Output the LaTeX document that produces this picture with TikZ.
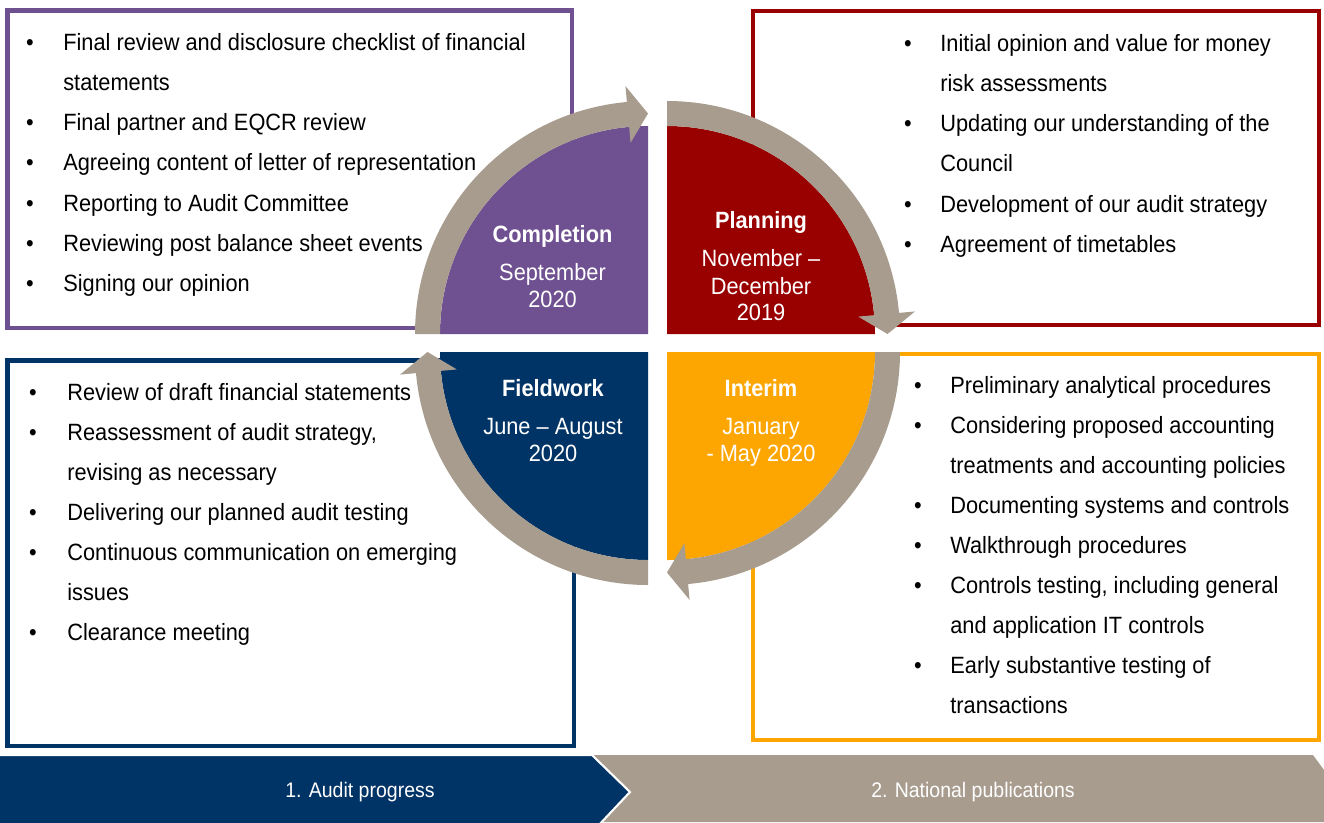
\documentclass[tikz,border=0pt]{standalone}
\usepackage{fontspec}
\setmainfont{Liberation Sans}[FakeStretch=0.925]
\usetikzlibrary{calc}

\definecolor{compPurple}{RGB}{111,80,145}
\definecolor{planRed}{RGB}{153,0,0}
\definecolor{fieldBlue}{RGB}{0,51,102}
\definecolor{interimOrange}{RGB}{253,165,0}
\definecolor{ringGrey}{RGB}{168,156,142}

\tikzset{
  panel/.style={line width=2.3pt},
  item/.style={anchor=base west, inner sep=0pt, text=black, font=\fontsize{13.4}{16}\selectfont},
  dot/.style={anchor=base, inner sep=0pt, text=black, font=\fontsize{13.4}{16}\selectfont},
  phase/.style={anchor=base, inner sep=0pt, text=white, font=\fontsize{13.4}{16}\selectfont\bfseries},
  period/.style={anchor=base, inner sep=0pt, text=white, font=\fontsize{13.4}{16}\selectfont},
  tab/.style={inner sep=0pt, text=white, font=\fontsize{12}{14}\selectfont},
}

\begin{document}
\begin{tikzpicture}[x=0.02cm, y=-0.02cm]
\useasboundingbox (0,0) rectangle (1324,822);

% The four panels
\draw[panel, draw=compPurple] (7.5,10.5) rectangle (572,328);
\draw[panel, draw=planRed] (753,11) rectangle (1319,325);
\draw[panel, draw=fieldBlue] (7.5,360.5) rectangle (574,746);
\draw[panel, draw=interimOrange] (753,354) rectangle (1319,740);

% Completion items
\foreach \k/\txt in {0/{Final review and disclosure checklist of financial}, 1/statements,
  2/{Final partner and EQCR review}, 3/{Agreeing content of letter of representation},
  4/{Reporting to Audit Committee}, 5/{Reviewing post balance sheet events}, 6/{Signing our opinion}}{
  \node[item] (comp\k) at (63,{50+40.25*\k}) {\txt};
}
\foreach \k in {0,2,3,4,5,6}{
  \node[dot] (compdot\k) at (30,{50+40.25*\k}) {\textbullet};
}

% Planning items
\foreach \k/\txt in {0/{Initial opinion and value for money}, 1/{risk assessments},
  2/{Updating our understanding of the}, 3/Council,
  4/{Development of our audit strategy}, 5/{Agreement of timetables}}{
  \node[item] (plan\k) at (940,{51+40.25*\k}) {\txt};
}
\foreach \k in {0,2,4,5}{
  \node[dot] (plandot\k) at (908,{51+40.25*\k}) {\textbullet};
}

% Fieldwork items
\foreach \k/\txt in {0/{Review of draft financial statements}, 1/{Reassessment of audit strategy,},
  2/{revising as necessary}, 3/{Delivering our planned audit testing},
  4/{Continuous communication on emerging}, 5/issues, 6/{Clearance meeting}}{
  \node[item] (field\k) at (67,{400+40*\k}) {\txt};
}
\foreach \k in {0,1,3,4,6}{
  \node[dot] (fielddot\k) at (33,{400+40*\k}) {\textbullet};
}

% Interim items
\foreach \k/\txt in {0/{Preliminary analytical procedures}, 1/{Considering proposed accounting},
  2/{treatments and accounting policies}, 3/{Documenting systems and controls},
  4/{Walkthrough procedures}, 5/{Controls testing, including general},
  6/{and application IT controls}, 7/{Early substantive testing of}, 8/transactions}{
  \node[item] (int\k) at (950,{393+40*\k}) {\txt};
}
\foreach \k in {0,1,3,4,5,7}{
  \node[dot] (intdot\k) at (918,{393+40*\k}) {\textbullet};
}

% The quadrants
\foreach \cx/\cy/\s/\col in {648/334/180/compPurple, 667/334/270/planRed,
  667/352/0/interimOrange, 648/352/90/fieldBlue}{
  \fill[\col] (\cx,\cy) -- ($(\cx,\cy)+(\s:208)$) arc[start angle=\s, end angle=\s+90, radius=208] -- cycle;
}

% The cycle arrows
\foreach \cx/\cy/\s in {648/334/180, 667/334/270, 667/352/0, 648/352/90}{
  \pgfmathsetmacro{\arend}{\s+84.8}
  \pgfmathsetmacro{\artip}{\s+90}
  \fill[ringGrey] ($(\cx,\cy)+(\s:208)$) arc[start angle=\s, end angle=\arend, radius=208]
    -- ($(\cx,\cy)+(\arend:192)$) -- ($(\cx,\cy)+(\artip:220.5)$) -- ($(\cx,\cy)+(\arend:249)$)
    -- ($(\cx,\cy)+(\arend:233)$) arc[start angle=\arend, end angle=\s, radius=233] -- cycle;
}

% Phase labels
\node[phase] (compT) at (552.5,242) {Completion};
\node[period] (compD1) at (552.5,280) {September};
\node[period] (compD2) at (552.5,307) {2020};
\node[phase] (planT) at (761,228.5) {Planning};
\node[period] (planD1) at (761,266) {November --};
\node[period] (planD2) at (761,294) {December};
\node[period] (planD3) at (761,320) {2019};
\node[phase] (fieldT) at (553,396.5) {Fieldwork};
\node[period] (fieldD1) at (553,434) {June -- August};
\node[period] (fieldD2) at (553,461) {2020};
\node[phase] (intT) at (761,396.5) {Interim};
\node[period] (intD1) at (761,434) {January};
\node[period] (intD2) at (761,461) {- May 2020};

% The bottom tabs
\fill[ringGrey] (560,755) -- (1313,755) -- (1324,770) -- (1324,822) -- (560,822) -- cycle;
\filldraw[fill=fieldBlue, draw=white, line width=1.2pt]
  (-5,755) -- (592,755) -- (630,792) -- (597,827) -- (-5,827) -- cycle;
\node[tab] (progress) at (360,792) {1. Audit progress};
\node[tab] (publications) at (973,792) {2. National publications};

\end{tikzpicture}
\end{document}
